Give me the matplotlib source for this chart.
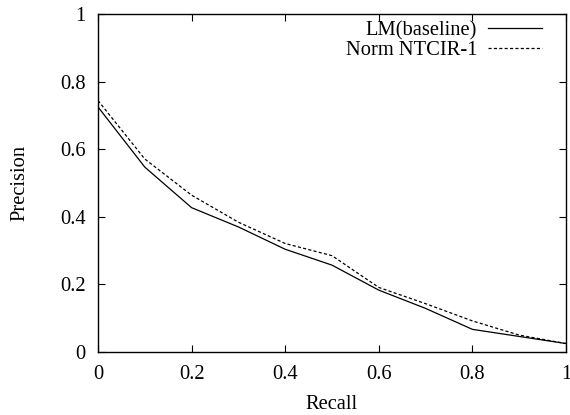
import matplotlib
matplotlib.use("Agg")
import matplotlib.pyplot as plt

plt.rcParams['font.family'] = ['Liberation Serif', 'DejaVu Serif']

recall = [0.0, 0.1, 0.2, 0.3, 0.4, 0.5, 0.6, 0.7, 0.8, 0.9, 1.0]
lm_baseline = [0.725, 0.547, 0.427, 0.370, 0.304, 0.257, 0.183, 0.129, 0.067, 0.046, 0.025]
norm_ntcir1 = [0.744, 0.571, 0.464, 0.384, 0.321, 0.285, 0.191, 0.143, 0.092, 0.050, 0.025]

xticks = [0, 0.2, 0.4, 0.6, 0.8, 1]
xticklabels = ["0", "0.2", "0.4", "0.6", "0.8", "1"]
yticks = [0, 0.2, 0.4, 0.6, 0.8, 1]
yticklabels = ["0", "0.2", "0.4", "0.6", "0.8", "1"]

FS = 14.8

fig = plt.figure(figsize=(5.7, 4.15), dpi=100)
ax = fig.add_axes([98 / 570, (415 - 352) / 415, (566 - 98) / 570, (352 - 14) / 415])

ax.plot(recall, lm_baseline, color="black", lw=0.9, label="LM(baseline)")
ax.plot(recall, norm_ntcir1, color="black", lw=0.9, ls=(0, (2.5, 1.8)), label="Norm NTCIR-1")

ax.set_xlim(0, 1)
ax.set_ylim(0, 1)
ax.set_xticks(xticks)
ax.set_xticklabels(xticklabels)
ax.set_yticks(yticks)
ax.set_yticklabels(yticklabels)
ax.tick_params(direction="in", top=True, right=True, labelsize=FS, length=5, width=0.8)
ax.tick_params(axis="x", pad=9)
ax.tick_params(axis="y", pad=9)
for s in ax.spines.values():
    s.set_linewidth(1.0)

ax.set_xlabel("Recall", fontsize=FS, labelpad=8)
ax.set_ylabel("Precision", fontsize=FS, labelpad=22)

ax.legend(loc="upper right", frameon=False, markerfirst=False, fontsize=FS,
          handlelength=2.65, handletextpad=0.5, labelspacing=0.0,
          borderaxespad=0.0, borderpad=0.0, bbox_to_anchor=(1 - 24 / 468, 1 - 7 / 338))

fig.savefig("out.png", dpi=100)
